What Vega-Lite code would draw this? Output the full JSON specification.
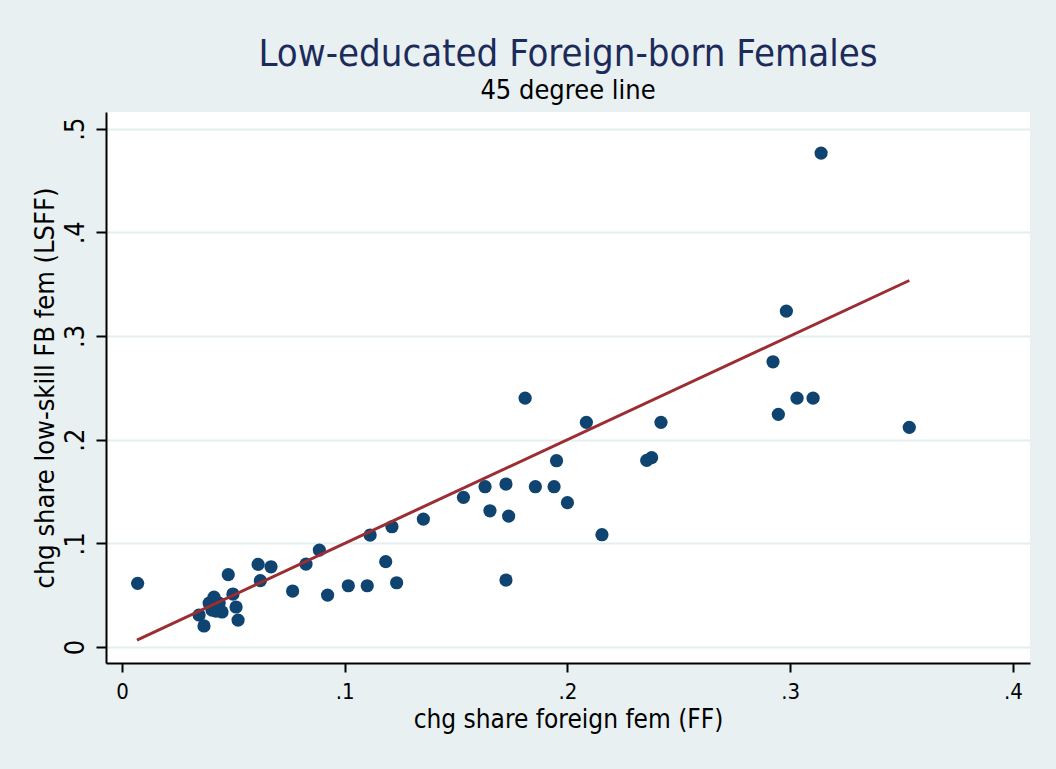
{
  "$schema": "https://vega.github.io/schema/vega-lite/v6.json",
  "autosize": {"type": "none"},
  "width": 924,
  "height": 551,
  "padding": {"left": 106, "top": 112, "right": 26, "bottom": 106},
  "background": "#e8f0f2",
  "config": {
    "font": "Liberation Sans Narrow, DejaVu Sans Condensed, sans-serif",
    "view": {"fill": "white", "stroke": null}
  },
  "title": {
    "text": "Low-educated Foreign-born Females",
    "subtitle": "45 degree line",
    "anchor": "middle",
    "fontSize": 38,
    "fontWeight": "normal",
    "color": "#1c2b59",
    "subtitleFontSize": 27,
    "subtitleColor": "#000000",
    "subtitlePadding": 4,
    "offset": 8
  },
  "datasets": {
    "pts": [
      {"ff": 0.3139, "lsff": 0.4764},
      {"ff": 0.2983, "lsff": 0.3240},
      {"ff": 0.1810, "lsff": 0.2400},
      {"ff": 0.2085, "lsff": 0.2167},
      {"ff": 0.2420, "lsff": 0.2167},
      {"ff": 0.2923, "lsff": 0.2751},
      {"ff": 0.3031, "lsff": 0.2400},
      {"ff": 0.3103, "lsff": 0.2400},
      {"ff": 0.2947, "lsff": 0.2244},
      {"ff": 0.3535, "lsff": 0.2119},
      {"ff": 0.1951, "lsff": 0.1797},
      {"ff": 0.2356, "lsff": 0.1800},
      {"ff": 0.2378, "lsff": 0.1826},
      {"ff": 0.1630, "lsff": 0.1546},
      {"ff": 0.1724, "lsff": 0.1572},
      {"ff": 0.1856, "lsff": 0.1546},
      {"ff": 0.1940, "lsff": 0.1546},
      {"ff": 0.2000, "lsff": 0.1392},
      {"ff": 0.1533, "lsff": 0.1444},
      {"ff": 0.1652, "lsff": 0.1314},
      {"ff": 0.1736, "lsff": 0.1263},
      {"ff": 0.1353, "lsff": 0.1234},
      {"ff": 0.1212, "lsff": 0.1160},
      {"ff": 0.1114, "lsff": 0.1080},
      {"ff": 0.2155, "lsff": 0.1083},
      {"ff": 0.0886, "lsff": 0.0935},
      {"ff": 0.0826, "lsff": 0.0800},
      {"ff": 0.1184, "lsff": 0.0823},
      {"ff": 0.0766, "lsff": 0.0540},
      {"ff": 0.0923, "lsff": 0.0501},
      {"ff": 0.1016, "lsff": 0.0591},
      {"ff": 0.1101, "lsff": 0.0591},
      {"ff": 0.1233, "lsff": 0.0620},
      {"ff": 0.1724, "lsff": 0.0646},
      {"ff": 0.0070, "lsff": 0.0614},
      {"ff": 0.0477, "lsff": 0.0698},
      {"ff": 0.0611, "lsff": 0.0797},
      {"ff": 0.0669, "lsff": 0.0774},
      {"ff": 0.0621, "lsff": 0.0640},
      {"ff": 0.0346, "lsff": 0.0309},
      {"ff": 0.0368, "lsff": 0.0203},
      {"ff": 0.0391, "lsff": 0.0424},
      {"ff": 0.0413, "lsff": 0.0482},
      {"ff": 0.0422, "lsff": 0.0347},
      {"ff": 0.0449, "lsff": 0.0338},
      {"ff": 0.0404, "lsff": 0.0357},
      {"ff": 0.0498, "lsff": 0.0511},
      {"ff": 0.0512, "lsff": 0.0386},
      {"ff": 0.0521, "lsff": 0.0260},
      {"ff": 0.0436, "lsff": 0.0424}
    ],
    "line45": [
      {"ff": 0.0067, "lsff": 0.0067},
      {"ff": 0.3535, "lsff": 0.3535}
    ]
  },
  "layer": [
    {
      "data": {"name": "pts"},
      "mark": {"type": "circle", "size": 175, "color": "#0f4470", "opacity": 1},
      "encoding": {
        "x": {
          "field": "ff", "type": "quantitative",
          "scale": {"domain": [-0.0072, 0.4077], "nice": false, "zero": false},
          "axis": {
            "title": "chg share foreign fem (FF)",
            "values": [0, 0.1, 0.2, 0.3, 0.4],
            "labelExpr": "datum.value == 0 ? '0' : replace(format(datum.value, '.1f'), '0.', '.')",
            "grid": false,
            "domainColor": "#000000", "domainWidth": 2,
            "tickColor": "#000000", "tickWidth": 2, "tickSize": 9,
            "labelFontSize": 22, "labelColor": "#000000", "labelPadding": 9,
            "titleFontSize": 26, "titleFontWeight": "normal", "titleColor": "#000000", "titlePadding": 4
          }
        },
        "y": {
          "field": "lsff", "type": "quantitative",
          "scale": {"domain": [-0.0154, 0.516], "nice": false, "zero": false},
          "axis": {
            "title": "chg share low-skill FB fem (LSFF)",
            "values": [0, 0.1, 0.2, 0.3, 0.4, 0.5],
            "labelExpr": "datum.value == 0 ? '0' : replace(format(datum.value, '.1f'), '0.', '.')",
            "grid": true, "gridColor": "#e4eef0", "gridWidth": 2,
            "domainColor": "#000000", "domainWidth": 2,
            "tickColor": "#000000", "tickWidth": 2, "tickSize": 10,
            "labelFontSize": 27, "labelColor": "#000000", "labelPadding": 7,
            "labelAngle": -90, "labelAlign": "center", "labelBaseline": "bottom",
            "titleFontSize": 27, "titleFontWeight": "normal", "titleColor": "#000000", "titlePadding": 2
          }
        }
      }
    },
    {
      "data": {"name": "line45"},
      "mark": {"type": "line", "color": "#9b2d33", "strokeWidth": 3},
      "encoding": {
        "x": {"field": "ff", "type": "quantitative"},
        "y": {"field": "lsff", "type": "quantitative"}
      }
    }
  ]
}
